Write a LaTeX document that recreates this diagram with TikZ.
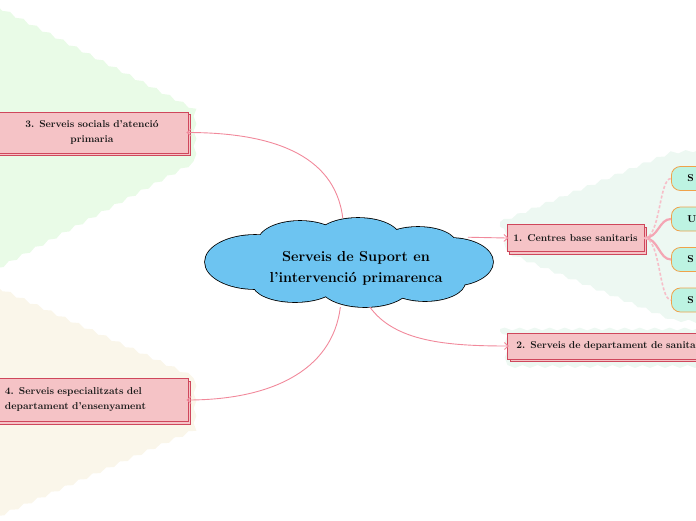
\documentclass[tikz,border=0pt]{standalone}
\usepackage{tikz}
\usetikzlibrary{arrows.meta,shapes.geometric,shadows,decorations.pathmorphing}
\definecolor{cloudblue}{HTML}{6DC4F1}
\definecolor{boxpink}{HTML}{F5C3C6}
\definecolor{boxred}{HTML}{CF475C}
\definecolor{linkpink}{HTML}{F1899B}
\definecolor{leafmint}{HTML}{BDF3E2}
\definecolor{leaforange}{HTML}{F0A24A}
\definecolor{fangreen}{HTML}{E9FBE7}
\definecolor{fanbeige}{HTML}{FAF6EA}
\definecolor{fanmint}{HTML}{EDF8F2}

\begin{document}
\begin{tikzpicture}[x=1pt,y=-1pt,
  topic/.style={draw=boxred,fill=boxpink,line width=0.9pt,
    copy shadow={shadow xshift=2.5pt,shadow yshift=-2.5pt},
    font=\fontsize{10}{15}\selectfont\bfseries,text=black!90,inner sep=0pt},
  leaf/.style={draw=leaforange,fill=leafmint,line width=0.8pt,rounded corners=9pt,
    anchor=west,minimum width=62pt,minimum height=24pt,text width=30pt,
    inner xsep=16pt,inner ysep=0pt,align=left,font=\fontsize{10}{12}\selectfont\bfseries},
  link/.style={draw=linkpink,line width=0.9pt,shorten >=-2pt,
    -{Straight Barb[length=4pt,width=7pt,line width=0.9pt]}},
  sub/.style={draw=linkpink!75,line width=2.2pt},
  fan/.style={decorate,decoration={snake,amplitude=1.4pt,segment length=15pt}}]
  \useasboundingbox (0,0) rectangle (696,520);
  \clip (0,0) rectangle (696,520);

  % pale fans behind the branches
  \fill[fangreen,fan] (-8,4) -- (192,108) -- (192,160) -- (-8,268) -- cycle;
  \fill[fanbeige,fan] (-8,285) -- (192,376) -- (192,428) -- (-8,516) -- cycle;
  \fill[fanmint,fan] (500,222) -- (665,155) -- (704,152) -- (704,325) -- (665,323) -- (500,256) -- cycle;
  \fill[fanmint,fan] (500,329) -- (704,329) -- (704,367) -- (500,367) -- cycle;

  % central topic: cloud made of puffs (outline first, fill on top)
  \def\puffs{255/262/50/27, 300/242/42/21, 358/238/42/20, 418/244/38/17,
    450/262/43/24, 425/282/40/19, 365/286/45/21, 295/284/42/18, 349/262/110/28}
  \foreach \cx/\cy/\rx/\ry in \puffs{
    \draw[line width=1.6pt] (\cx,\cy) ellipse [x radius=\rx, y radius=\ry];}
  \foreach \cx/\cy/\rx/\ry in \puffs{
    \fill[cloudblue] (\cx,\cy) ellipse [x radius=\rx, y radius=\ry];}
  \node[ellipse,minimum width=288pt,minimum height=89pt,inner sep=0pt] (main) at (349,262.5) {};
  \node[align=center,inner sep=0pt,font=\fontsize{14.5}{21}\selectfont\bfseries]
    (title) at (356,268) {Serveis de Suport en\\l'intervenció primarenca};

  % main branches
  \node[topic,minimum width=192pt,minimum height=41pt,text width=180pt,align=center]
    (soc) at (92,132.5) {3. Serveis socials d'atenció\\primaria};
  \node[topic,minimum width=192pt,minimum height=43pt,text width=174pt,align=left]
    (esp) at (92,400) {4. Serveis especialitzats del\\departament d'ensenyament};
  \node[topic,minimum width=137pt,minimum height=27pt]
    (san) at (575.5,238) {1. Centres base sanitaris};
  \node[topic,anchor=west,minimum width=218pt,minimum height=26pt,text width=200pt,align=left]
    (dep) at (507,346) {2. Serveis de departament de sanitat};

  % sub-topics of 1
  \foreach \n/\y/\t in {1/178.5/S, 2/219/U, 3/259.5/S, 4/300/S}{
    \node[leaf] (l\n) at (671,\y) {\t};}

  % connectors
  \draw[link] (main.98) .. controls +(-8,-65) and +(80,0) .. (soc.east);
  \draw[link] (main.259) .. controls +(-8,65) and +(80,0) .. (esp.east);
  \draw[link] (main.12) -- (san.west);
  \draw[link] (main.-65) .. controls +(25,35) and +(-60,0) .. (dep.west);

  \draw[sub,draw=linkpink!55,line width=1.6pt,dash pattern=on 3pt off 2pt]
    (san.east) .. controls +(16,0) and +(-12,0) .. (l1.west);
  \draw[sub] (san.east) .. controls +(14,0) and +(-12,0) .. (l2.west);
  \draw[sub] (san.east) .. controls +(14,0) and +(-12,0) .. (l3.west);
  \draw[sub,draw=linkpink!55,line width=1.6pt,dash pattern=on 3pt off 2pt]
    (san.east) .. controls +(16,0) and +(-12,0) .. (l4.west);
\end{tikzpicture}
\end{document}
